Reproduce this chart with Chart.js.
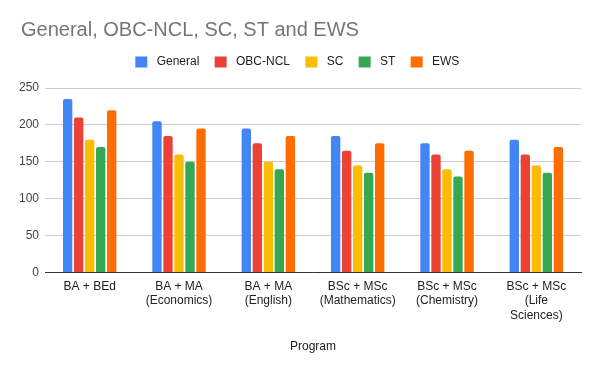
<!DOCTYPE html>
<html>
<head>
<meta charset="utf-8">
<script src="https://cdn.jsdelivr.net/npm/chart.js@4"></script>
<style>
html,body{margin:0;padding:0;background:#fff;}
#wrap{width:600px;height:371px;position:relative;}
</style>
</head>
<body>
<div id="wrap"><canvas id="c" width="600" height="371"></canvas></div>
<script>
const categories = [
  ["BA + BEd"],
  ["BA + MA", "(Economics)"],
  ["BA + MA", "(English)"],
  ["BSc + MSc", "(Mathematics)"],
  ["BSc + MSc", "(Chemistry)"],
  ["BSc + MSc", "(Life", "Sciences)"]
];
const seriesNames = ["General", "OBC-NCL", "SC", "ST", "EWS"];
const general = [235, 205, 195, 185, 175, 180];
const obcNcl  = [210, 185, 175, 165, 160, 160];
const sc      = [180, 160, 150, 145, 140, 145];
const st      = [170, 150, 140, 135, 130, 135];
const ews     = [220, 195, 185, 175, 165, 170];
const yTicks = [0, 50, 100, 150, 200, 250];
const colors = ["#4285F4", "#EA4335", "#FBBC04", "#34A853", "#FF6D01"];

const seriesValues = [general, obcNcl, sc, st, ews];
const FONT = "Arial, 'Liberation Sans', sans-serif";

const layoutTweaks = {
  id: 'layoutTweaks',
  beforeLayout(chart) {
    const lg = chart.legend;
    if (lg && !lg._extraWrapped) {
      const f = lg.fit;
      lg.fit = function () { f.call(this); this.height += 10; };
      lg._extraWrapped = true;
    }
  },
  afterLayout(chart) {
    const t = chart.titleBlock;
    if (t) { t.left += 4; t.right += 4; }
  }
};

new Chart(document.getElementById('c'), {
  type: 'bar',
  data: {
    labels: categories,
    datasets: seriesNames.map((n, i) => ({
      label: n,
      data: seriesValues[i],
      backgroundColor: colors[i],
      borderRadius: {topLeft: 2, topRight: 2},
      borderSkipped: 'bottom',
      categoryPercentage: 0.616,
      barPercentage: 0.85
    }))
  },
  options: {
    responsive: false,
    animation: false,
    devicePixelRatio: 1,
    layout: { padding: { left: 17, right: 19, top: 0, bottom: 17 } },
    plugins: {
      title: {
        display: true,
        text: "General, OBC-NCL, SC, ST and EWS",
        align: 'start',
        color: '#757575',
        font: { family: FONT, size: 20, weight: 'normal' },
        padding: { top: 18, bottom: 2 }
      },
      legend: {
        display: true,
        position: 'top',
        align: 'center',
        labels: {
          boxWidth: 12,
          boxHeight: 11,
          padding: 12,
          color: '#222',
          font: { family: FONT, size: 12 },
          generateLabels(chart) {
            return Chart.defaults.plugins.legend.labels.generateLabels(chart)
              .map(l => Object.assign({}, l, { text: ' ' + l.text + ' ' }));
          }
        }
      },
      tooltip: { enabled: false }
    },
    scales: {
      x: {
        grid: { display: false, drawTicks: false },
        border: { display: true, color: '#333', width: 1 },
        ticks: {
          color: '#222',
          font: { family: FONT, size: 12 },
          padding: 7,
          maxRotation: 0,
          autoSkip: false
        },
        title: {
          display: true,
          text: 'Program',
          color: '#222',
          font: { family: FONT, size: 12 },
          padding: { top: 10, bottom: 0 }
        }
      },
      y: {
        min: 0,
        max: 250,
        afterBuildTicks(scale) { scale.ticks = yTicks.map(v => ({ value: v })); },
        afterFit(scale) { scale.width = 28; },
        grid: { color: '#ccc', drawTicks: false },
        border: { display: false },
        ticks: {
          color: '#444',
          font: { family: FONT, size: 12 },
          padding: 6
        }
      }
    }
  },
  plugins: [layoutTweaks]
});
</script>
</body>
</html>
